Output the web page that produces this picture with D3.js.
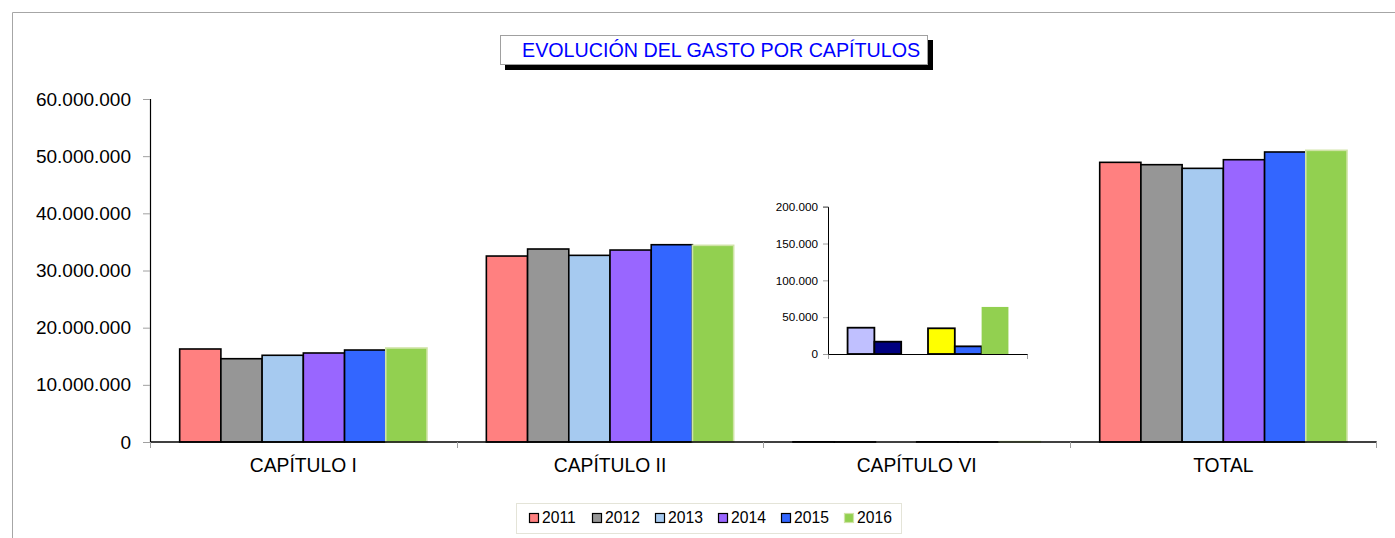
<!DOCTYPE html>
<html>
<head>
<meta charset="utf-8">
<script src="https://cdn.jsdelivr.net/npm/d3@7"></script>
<style>
  html, body { margin: 0; padding: 0; background: #fff; }
  svg { display: block; font-family: "Liberation Sans", Arial, sans-serif; }
</style>
</head>
<body>
<svg id="chart" width="1395" height="538"></svg>
<script>
// Chapter spending per year (euros)
const categories = ["CAPÍTULO I", "CAPÍTULO II", "CAPÍTULO VI", "TOTAL"];
const years = ["2011", "2012", "2013", "2014", "2015", "2016"];
const capituloI   = [16270000, 14570000, 15170000, 15570000, 16090000, 16440000];
const capituloII  = [32530000, 33760000, 32650000, 33580000, 34510000, 34400000];
const capituloVI  = [35700, 16700, 0, 34900, 10400, 63900];
const total       = [48920000, 48510000, 47870000, 49380000, 50730000, 51020000];
const yTicks      = [0, 10000000, 20000000, 30000000, 40000000, 50000000, 60000000];
const insetTicks  = [0, 50000, 100000, 150000, 200000];

const seriesColors = ["#ff8080", "#969696", "#a6caf0", "#9966ff", "#3366ff", "#92d050"];
const seriesStroke = ["#000", "#000", "#000", "#000", "#000", "#cfe3a6"];
const insetColors  = ["#c0c0ff", "#000080", "#a6caf0", "#ffff00", "#3366ff", "#92d050"];
const insetStroke  = ["#000", "#000", "#000", "#000", "#000", "none"];

const byCategory = [capituloI, capituloII, capituloVI, total];

const svg = d3.select("#chart");
const fmt = v => d3.format(",")(v).replace(/,/g, ".");

// chart area frame
svg.append("path")
  .attr("d", "M12.5,538 V12.5 H1395")
  .attr("fill", "none").attr("stroke", "#a6a6a6").attr("stroke-width", 1);

// ---- main chart ----
const x0 = d3.scaleBand().domain(categories).range([150, 1376.7]).padding(0);
const x1 = d3.scaleBand().domain(years).range([0, x0.bandwidth()]).paddingInner(0).paddingOuter(0.72);
const y = d3.scaleLinear().domain([0, 60000000]).range([442, 99]);

const groups = svg.append("g").selectAll("g")
  .data(categories)
  .join("g")
  .attr("transform", d => `translate(${x0(d)},0)`);

groups.selectAll("rect")
  .data((c, ci) => years.map((yr, i) => ({ yr, i, v: byCategory[ci][i] })).filter(d => d.v > 0))
  .join("rect")
  .attr("x", d => x1(d.yr))
  .attr("width", x1.bandwidth())
  .attr("y", d => y(d.v))
  .attr("height", d => y(0) - y(d.v))
  .attr("fill", d => seriesColors[d.i])
  .attr("stroke", d => seriesStroke[d.i])
  .attr("stroke-width", 1.6);

// y axis
const yAxis = svg.append("g").attr("transform", "translate(150,0)")
  .call(d3.axisLeft(y).tickValues(yTicks).tickFormat(fmt).tickSize(7).tickPadding(12));
yAxis.select(".domain").attr("stroke", "#000").attr("stroke-width", 1.2);
yAxis.selectAll(".tick line").attr("stroke", "#a0a0a0");
yAxis.selectAll(".tick text").attr("font-size", 19).attr("fill", "#000")
  .attr("font-family", "Liberation Sans, Arial, sans-serif");

// x axis
const xAxis = svg.append("g").attr("transform", "translate(0,442)");
xAxis.append("line").attr("x1", 150).attr("x2", 1376.7).attr("stroke", "#000").attr("stroke-width", 1.4);
xAxis.selectAll(".sep")
  .data(categories.concat([null]))
  .join("line")
  .attr("class", "sep")
  .attr("x1", (d, i) => i < categories.length ? Math.round(x0(d)) + 0.5 : 1376.5)
  .attr("x2", (d, i) => i < categories.length ? Math.round(x0(d)) + 0.5 : 1376.5)
  .attr("y1", 0).attr("y2", 6)
  .attr("stroke", "#a0a0a0");
xAxis.selectAll(".cat")
  .data(categories)
  .join("text")
  .attr("class", "cat")
  .attr("x", d => x0(d) + x0.bandwidth() / 2)
  .attr("y", 30)
  .attr("text-anchor", "middle")
  .attr("font-size", 19.3)
  .attr("fill", "#000")
  .text(d => d);

// ---- inset: CAPÍTULO VI on its own scale ----
const ix = d3.scaleBand().domain(years).range([828, 1028]).paddingInner(0).paddingOuter(0.73);
const iy = d3.scaleLinear().domain([0, 200000]).range([354, 206.7]);
const inset = svg.append("g");
inset.selectAll("rect")
  .data(years.map((yr, i) => ({ yr, i, v: capituloVI[i] })).filter(d => d.v > 0))
  .join("rect")
  .attr("x", d => ix(d.yr))
  .attr("width", ix.bandwidth())
  .attr("y", d => iy(d.v))
  .attr("height", d => iy(0) - iy(d.v))
  .attr("fill", d => insetColors[d.i])
  .attr("stroke", d => insetStroke[d.i])
  .attr("stroke-width", 1.8);

const iyAxis = inset.append("g").attr("transform", "translate(828,0)")
  .call(d3.axisLeft(iy).tickValues(insetTicks).tickFormat(fmt).tickSize(5).tickPadding(5));
iyAxis.select(".domain").attr("stroke", "#000");
iyAxis.selectAll(".tick line").attr("stroke", "#a0a0a0");
iyAxis.selectAll(".tick text").attr("font-size", 11.7).attr("fill", "#000")
  .attr("font-family", "Liberation Sans, Arial, sans-serif");

inset.append("line").attr("x1", 828).attr("x2", 1028).attr("y1", 354.5).attr("y2", 354.5)
  .attr("stroke", "#000");
inset.selectAll(".itick")
  .data([828.5, 1027.5])
  .join("line")
  .attr("class", "itick")
  .attr("x1", d => d).attr("x2", d => d)
  .attr("y1", 354.5).attr("y2", 359)
  .attr("stroke", "#a0a0a0");

// ---- title box with drop shadow ----
const title = svg.append("g");
title.append("rect").attr("x", 505).attr("y", 40).attr("width", 428).attr("height", 30).attr("fill", "#000");
title.append("rect").attr("x", 500.5).attr("y", 35.5).attr("width", 427).attr("height", 29)
  .attr("fill", "#fff").attr("stroke", "#a0a0a0");
title.append("text")
  .attr("x", 522).attr("y", 57)
  .attr("font-size", 19.7)
  .attr("fill", "#0000ff")
  .text("EVOLUCIÓN DEL GASTO POR CAPÍTULOS");

// ---- legend ----
const legend = svg.append("g");
legend.append("rect").attr("x", 516.5).attr("y", 503.5).attr("width", 385).attr("height", 30)
  .attr("fill", "#fff").attr("stroke", "#e4e4d8");
const items = legend.selectAll(".item")
  .data(years)
  .join("g")
  .attr("class", "item")
  .attr("transform", (d, i) => `translate(${529 + i * 63},0)`);
items.append("rect")
  .attr("x", 0.5).attr("y", 513.5).attr("width", 9).attr("height", 9)
  .attr("fill", (d, i) => seriesColors[i])
  .attr("stroke", (d, i) => seriesStroke[i]).attr("stroke-width", 1.2);
items.append("text")
  .attr("x", 13).attr("y", 523)
  .attr("font-size", 15.7)
  .attr("fill", "#000")
  .text(d => d);
</script>
</body>
</html>
